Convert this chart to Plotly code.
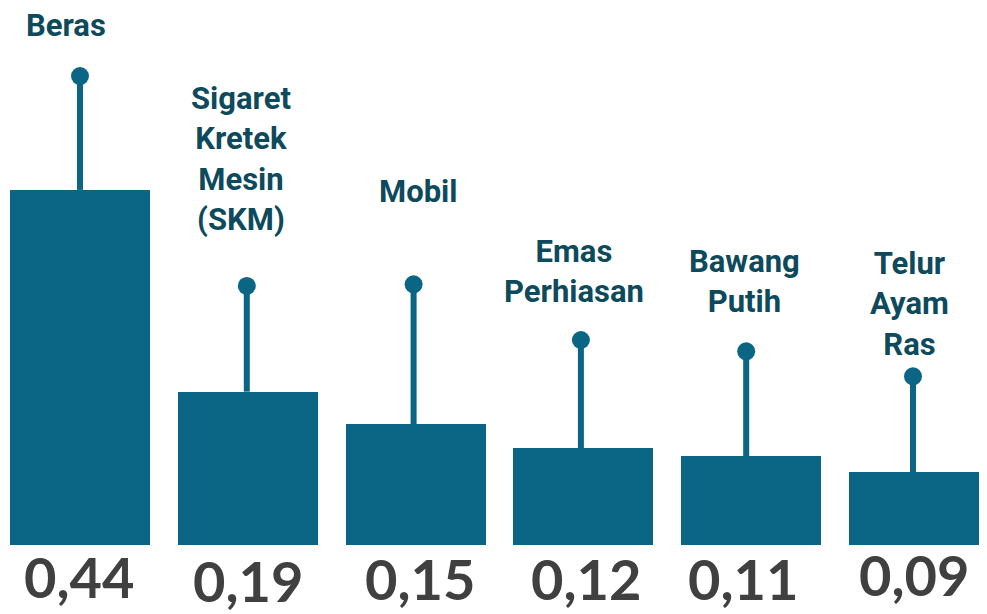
import plotly.graph_objects as go

categories = ["Beras", "Sigaret<br>Kretek<br>Mesin<br>(SKM)", "Mobil", "Emas<br>Perhiasan", "Bawang<br>Putih", "Telur<br>Ayam<br>Ras"]
values = [0.44, 0.19, 0.15, 0.12, 0.11, 0.09]
value_labels = ["0,44", "0,19", "0,15", "0,12", "0,11", "0,09"]
stem_tops = [0.581, 0.321, 0.323, 0.254, 0.240, 0.209]
label_bottoms = [0.618, 0.378, 0.413, 0.289, 0.276, 0.223]

label_xshift = [-14, -7, 2, -9, -7, -10]
value_yshift = [-31, -35, -33, -33, -33, -29]
value_xshift = [0, 1, 5, 3, -8, -5]
stem_xshift = [0, -0.006, -0.012, -0.015, -0.03, -0.036]

BAR = "#0b6584"
LABEL = "#0d4a5c"
VAL = "#404040"

x = list(range(len(categories)))

fig = go.Figure()
fig.add_trace(go.Bar(x=x, y=values, width=0.834, marker=dict(color=BAR, line=dict(width=0)),
                     hoverinfo="skip", showlegend=False))

for i, (v, t) in enumerate(zip(values, stem_tops)):
    xs = i + stem_xshift[i]
    fig.add_trace(go.Scatter(x=[xs, xs], y=[v, t], mode="lines", line=dict(color=BAR, width=6),
                             hoverinfo="skip", showlegend=False))
fig.add_trace(go.Scatter(x=[i + stem_xshift[i] for i in x], y=stem_tops, mode="markers",
                         marker=dict(color=BAR, size=18),
                         hoverinfo="skip", showlegend=False))

for i in x:
    fig.add_annotation(x=i, y=label_bottoms[i], text=categories[i], showarrow=False,
                       xanchor="center", yanchor="bottom", xshift=label_xshift[i],
                       font=dict(family="Roboto, Liberation Sans, sans-serif", size=31, color=LABEL, weight="bold"),
                       align="center")
    fig.add_annotation(x=i, y=0, text=value_labels[i], showarrow=False,
                       xanchor="center", yanchor="middle", yshift=value_yshift[i], xshift=value_xshift[i],
                       font=dict(family="Lato, sans-serif", size=56, color=VAL, weight="bold"))

fig.update_layout(
    width=979, height=606,
    margin=dict(l=0, r=0, t=0, b=69),
    paper_bgcolor="white", plot_bgcolor="white",
    xaxis=dict(range=[-0.429, 5.405], visible=False, fixedrange=True),
    yaxis=dict(range=[0, 0.6654], visible=False, fixedrange=True),
    bargap=0,
)
fig.write_html("out.html")
